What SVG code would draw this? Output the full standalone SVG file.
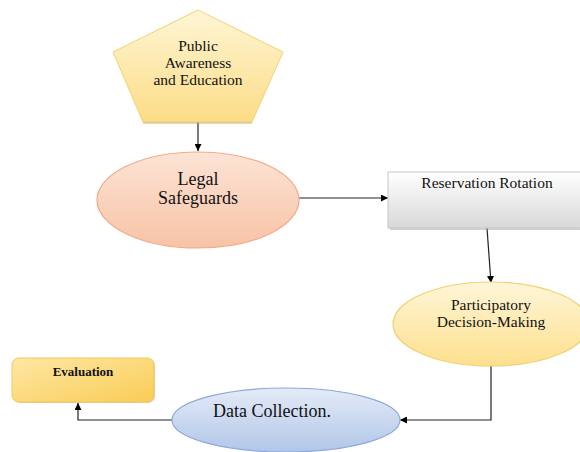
<svg xmlns="http://www.w3.org/2000/svg" width="580" height="452" viewBox="0 0 580 452">
<defs>
<linearGradient id="gPent" x1="0" y1="0" x2="0" y2="1"><stop offset="0" stop-color="#fff6d6"/><stop offset="1" stop-color="#fcdc86"/></linearGradient>
<linearGradient id="gLegal" x1="0" y1="0" x2="0" y2="1"><stop offset="0" stop-color="#fde4d6"/><stop offset="1" stop-color="#f8c3a6"/></linearGradient>
<linearGradient id="gRes" x1="0" y1="0" x2="0" y2="1"><stop offset="0" stop-color="#ffffff"/><stop offset="1" stop-color="#d8d8d8"/></linearGradient>
<linearGradient id="gPart" x1="0" y1="0" x2="0" y2="1"><stop offset="0" stop-color="#fff6d8"/><stop offset="1" stop-color="#fde08e"/></linearGradient>
<linearGradient id="gData" x1="0" y1="0" x2="0" y2="1"><stop offset="0" stop-color="#e4ebf7"/><stop offset="1" stop-color="#b1c6e8"/></linearGradient>
<linearGradient id="gEval" x1="0" y1="0" x2="1" y2="1"><stop offset="0" stop-color="#fee7a6"/><stop offset="1" stop-color="#f9cc55"/></linearGradient>
<marker id="arr" viewBox="0 0 10 10" refX="10" refY="5" markerWidth="7" markerHeight="7" markerUnits="userSpaceOnUse" orient="auto"><path d="M0,0 L10,5 L0,10 z" fill="#000"/></marker>
</defs>
<style>
text{font-family:"Liberation Serif","Times New Roman",serif;fill:#111;text-anchor:middle}
.c{fill:none;stroke:#222;stroke-width:1.2}
.sh{fill:#999;opacity:0.45}
</style>
<rect width="580" height="452" fill="#fff"/>
<g id="connectors">
<line class="c" x1="198" y1="122" x2="198" y2="151" marker-end="url(#arr)"/>
<line class="c" x1="299" y1="198" x2="388" y2="198" marker-end="url(#arr)"/>
<line class="c" x1="487" y1="228" x2="491" y2="283" marker-end="url(#arr)"/>
<polyline class="c" points="491,366 491,420 400,420" marker-end="url(#arr)"/>
<polyline class="c" points="172,420 78,420 78,403" marker-end="url(#arr)"/>
</g>
<g id="public-awareness">
<polygon points="198,10 283,52 252,122 143,122 113,52" fill="url(#gPent)" stroke="#f3d170" stroke-width="1"/>
<line x1="143" y1="123" x2="252" y2="123" stroke="#c9b071" stroke-width="1"/>
<text x="198" y="51" font-size="15.5">Public</text>
<text x="198" y="68" font-size="15.5">Awareness</text>
<text x="198" y="85" font-size="15.5">and Education</text>
</g>
<g id="legal-safeguards">
<ellipse cx="198" cy="200" rx="101" ry="48" fill="url(#gLegal)" stroke="#f2a98a" stroke-width="1.2"/>
<text x="198" y="185" font-size="18">Legal</text>
<text x="198" y="204" font-size="18">Safeguards</text>
</g>
<g id="reservation-rotation">
<rect x="390" y="174" width="195" height="56" class="sh"/>
<rect x="388" y="172" width="195" height="56" fill="url(#gRes)" stroke="#c8c8c8" stroke-width="1"/>
<text x="487" y="188" font-size="15.5">Reservation Rotation</text>
</g>
<g id="participatory">
<ellipse cx="491" cy="324" rx="98" ry="42" fill="url(#gPart)" stroke="#f2d172" stroke-width="1.2"/>
<text x="491" y="310" font-size="15.5">Participatory</text>
<text x="491" y="327" font-size="15.5">Decision-Making</text>
</g>
<g id="data-collection">
<ellipse cx="286" cy="420" rx="114" ry="32" fill="url(#gData)" stroke="#8ea9d8" stroke-width="1.2"/>
<text x="272" y="417" font-size="18">Data Collection.</text>
</g>
<g id="evaluation">
<rect x="13" y="359" width="142" height="44" rx="7" class="sh"/>
<rect x="12" y="358" width="142" height="44" rx="7" fill="url(#gEval)" stroke="#f4c84c" stroke-width="1"/>
<text x="83" y="376" font-size="13" font-weight="bold">Evaluation</text>
</g>
</svg>
